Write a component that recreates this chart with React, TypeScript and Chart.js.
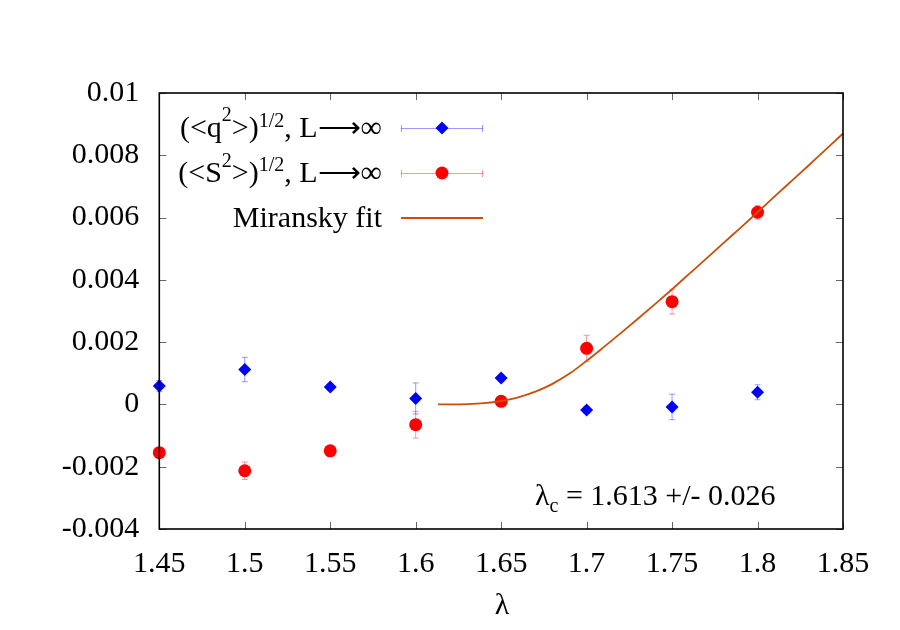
import React, { useEffect, useRef } from 'react';
import { Chart, registerables } from 'chart.js';

Chart.register(...registerables);

// ---- data ----
const lambdas = [1.45, 1.5, 1.55, 1.6, 1.65, 1.7, 1.75, 1.8];
const qValues = [0.00059, 0.00112, 0.00056, 0.00019, 0.00085, -0.00018, -0.00008, 0.00039];
const qErrors = [0.00018, 0.00039, 0.0001, 0.0005, 0.0001, 0.0001, 0.00041, 0.00024];
const sValues = [-0.00155, -0.00213, -0.00149, -0.00065, 0.0001, 0.0018, 0.0033, 0.00617];
const sErrors = [0.0001, 0.00028, 0.0001, 0.00043, 0.0001, 0.00042, 0.0004, 0.00022];

const fitLambdas = [1.613, 1.62, 1.63, 1.64, 1.65, 1.66, 1.67, 1.68, 1.69, 1.7, 1.71, 1.72, 1.73, 1.74, 1.75, 1.76, 1.77, 1.78, 1.79, 1.8, 1.81, 1.82, 1.83, 1.84, 1.85];
const fitValues = [0, 0.000001, 0.00001, 0.00004, 0.00011, 0.00023, 0.00041, 0.00066, 0.00099, 0.0014, 0.00184, 0.00229, 0.00275, 0.00322, 0.0037, 0.00419, 0.00468, 0.00518, 0.00567, 0.00617, 0.00668, 0.00718, 0.00768, 0.00819, 0.0087];

const xMin = 1.45, xMax = 1.85, xStep = 0.05;
const yMin = -0.004, yMax = 0.01, yStep = 0.002;

const legendLabels = ['(<q2>)1/2, L⟶∞', '(<S2>)1/2, L⟶∞', 'Miransky fit'];
const annotationText = 'λc = 1.613 +/- 0.026';
const xTitle = 'λ';

const BLUE = '#0000ff';
const RED = '#ff0000';
const FIT = '#c8500a';
const BLUE_ERR = 'rgba(70,70,255,0.55)';
const RED_ERR = 'rgba(255,70,70,0.55)';
const FONT = '"Liberation Serif", "Times New Roman", serif';

type Part = { t: string; sup?: number; sub?: number };

function richWidth(ctx: CanvasRenderingContext2D, parts: Part[]) {
  let w = 0;
  for (const p of parts) {
    ctx.font = (p.sup !== undefined || p.sub !== undefined) ? `20px ${FONT}` : `30px ${FONT}`;
    w += ctx.measureText(p.t).width;
  }
  return w;
}
function drawRich(ctx: CanvasRenderingContext2D, parts: Part[], x: number, baseline: number, align: 'left' | 'right') {
  let cx = align === 'right' ? x - richWidth(ctx, parts) : x;
  ctx.textAlign = 'left';
  ctx.textBaseline = 'alphabetic';
  ctx.fillStyle = '#000';
  for (const p of parts) {
    const small = p.sup !== undefined || p.sub !== undefined;
    ctx.font = small ? `20px ${FONT}` : `30px ${FONT}`;
    let y = baseline;
    if (p.sup !== undefined) y -= p.sup;
    if (p.sub !== undefined) y += p.sub;
    ctx.fillText(p.t, cx, y);
    cx += ctx.measureText(p.t).width;
  }
}

const errorBarPlugin = {
  id: 'errorBars',
  beforeDatasetsDraw(chart: any) {
    const { ctx, scales } = chart;
    const x = scales.x, y = scales.y;
    const draw = (vals: number[], errs: number[], color: string) => {
      ctx.save();
      ctx.strokeStyle = color;
      ctx.lineWidth = 1;
      lambdas.forEach((l, i) => {
        const px = x.getPixelForValue(l);
        const y1 = y.getPixelForValue(vals[i] - errs[i]);
        const y2 = y.getPixelForValue(vals[i] + errs[i]);
        ctx.beginPath();
        ctx.moveTo(px, y1); ctx.lineTo(px, y2);
        ctx.moveTo(px - 3, y1); ctx.lineTo(px + 3, y1);
        ctx.moveTo(px - 3, y2); ctx.lineTo(px + 3, y2);
        ctx.stroke();
      });
      ctx.restore();
    };
    draw(qValues, qErrors, BLUE_ERR);
    draw(sValues, sErrors, RED_ERR);
  },
};

const framePlugin = {
  id: 'frame',
  afterDraw(chart: any) {
    const { ctx, chartArea: a, scales } = chart;
    ctx.save();
    // ticks inward
    ctx.strokeStyle = '#666';
    ctx.lineWidth = 1;
    const tl = 7;
    ctx.beginPath();
    scales.y.ticks.forEach((t: any) => {
      const py = Math.round(scales.y.getPixelForValue(t.value)) + 0.5;
      ctx.moveTo(a.left, py); ctx.lineTo(a.left + tl, py);
      ctx.moveTo(a.right, py); ctx.lineTo(a.right - tl, py);
    });
    scales.x.ticks.forEach((t: any) => {
      const px = Math.round(scales.x.getPixelForValue(t.value)) + 0.5;
      ctx.moveTo(px, a.bottom); ctx.lineTo(px, a.bottom - tl);
      ctx.moveTo(px, a.top); ctx.lineTo(px, a.top + tl);
    });
    ctx.stroke();
    // border
    ctx.strokeStyle = '#000';
    ctx.lineWidth = 1.6;
    ctx.strokeRect(a.left, a.top, a.right - a.left, a.bottom - a.top);

    // legend
    const rows = [
      { parts: [{ t: '(<q' }, { t: '2', sup: 16 }, { t: '>)' }, { t: '1/2', sup: 10 }, { t: ', L⟶∞' }] as Part[], kind: 'q' },
      { parts: [{ t: '(<S' }, { t: '2', sup: 15 }, { t: '>)' }, { t: '1/2', sup: 11 }, { t: ', L⟶∞' }] as Part[], kind: 's' },
      { parts: [{ t: legendLabels[2] }] as Part[], kind: 'fit' },
    ];
    const baselines = [137, 182, 227];
    const sx1 = 401, sx2 = 483, sxc = 442;
    rows.forEach((r, i) => {
      drawRich(ctx, r.parts, 382, baselines[i], 'right');
      const sy = baselines[i] - 9;
      if (r.kind === 'fit') {
        ctx.strokeStyle = FIT; ctx.lineWidth = 1.8;
        ctx.beginPath(); ctx.moveTo(sx1, sy); ctx.lineTo(sx2, sy); ctx.stroke();
      } else {
        ctx.strokeStyle = r.kind === 'q' ? BLUE_ERR : RED_ERR; ctx.lineWidth = 1;
        ctx.beginPath();
        ctx.moveTo(sx1, sy + 0.5); ctx.lineTo(sx2, sy + 0.5);
        ctx.moveTo(sx1 + 0.5, sy - 3); ctx.lineTo(sx1 + 0.5, sy + 4);
        ctx.moveTo(sx2 - 0.5, sy - 3); ctx.lineTo(sx2 - 0.5, sy + 4);
        ctx.stroke();
        ctx.fillStyle = r.kind === 'q' ? BLUE : RED;
        ctx.beginPath();
        if (r.kind === 'q') {
          ctx.moveTo(sxc, sy - 6.5); ctx.lineTo(sxc + 6.5, sy); ctx.lineTo(sxc, sy + 6.5); ctx.lineTo(sxc - 6.5, sy); ctx.closePath();
        } else {
          ctx.arc(sxc, sy, 6.5, 0, Math.PI * 2);
        }
        ctx.fill();
      }
    });

    // annotation
    drawRich(ctx, [{ t: annotationText.slice(0, 1) }, { t: annotationText.slice(1, 2), sub: 7 }, { t: annotationText.slice(2) }], 535, 505, 'left');

    // x title
    ctx.font = `30px ${FONT}`;
    ctx.fillStyle = '#000';
    ctx.textAlign = 'center';
    ctx.textBaseline = 'alphabetic';
    ctx.fillText(xTitle, 502, 614);
    ctx.restore();
  },
};

export default function App() {
  const ref = useRef<HTMLCanvasElement>(null);
  useEffect(() => {
    if (!ref.current) return;
    const chart = new Chart(ref.current, {
      type: 'scatter',
      data: {
        datasets: [
          {
            label: legendLabels[2],
            data: fitLambdas.map((l, i) => ({ x: l, y: fitValues[i] })),
            showLine: true,
            borderColor: FIT,
            borderWidth: 1.8,
            pointRadius: 0,
            cubicInterpolationMode: 'monotone',
            fill: false,
            order: 0,
            clip: false,
          } as any,
          {
            label: legendLabels[1],
            data: lambdas.map((l, i) => ({ x: l, y: sValues[i] })),
            pointStyle: 'circle',
            pointRadius: 6.5,
            backgroundColor: RED,
            borderColor: RED,
            borderWidth: 0,
            order: 1,
            clip: false,
          } as any,
          {
            label: legendLabels[0],
            data: lambdas.map((l, i) => ({ x: l, y: qValues[i] })),
            pointStyle: 'rectRot',
            pointRadius: 6.5,
            backgroundColor: BLUE,
            borderColor: BLUE,
            borderWidth: 0,
            order: 2,
            clip: false,
          } as any,
        ],
      },
      options: {
        animation: false,
        responsive: false,
        maintainAspectRatio: false,
        layout: { padding: { top: 93, right: 57, left: 0, bottom: 0 } },
        plugins: { legend: { display: false }, tooltip: { enabled: false } },
        scales: {
          x: {
            type: 'linear',
            min: xMin,
            max: xMax,
            grid: { display: false, drawTicks: false },
            border: { display: false },
            ticks: {
              stepSize: xStep,
              padding: 17,
              color: '#000',
              font: { family: FONT, size: 30 },
              maxRotation: 0,
              autoSkip: false,
              callback: (v: any) => String(Number(Number(v).toFixed(2))),
            },
            afterFit: (s: any) => { s.height = 101; },
          },
          y: {
            type: 'linear',
            min: yMin,
            max: yMax,
            grid: { display: false, drawTicks: false },
            border: { display: false },
            ticks: {
              stepSize: yStep,
              padding: 20,
              color: '#000',
              font: { family: FONT, size: 30 },
              autoSkip: false,
              callback: (v: any) => String(Number(Number(v).toFixed(3))),
            },
            afterFit: (s: any) => { s.width = 159.3; },
          },
        },
      },
      plugins: [errorBarPlugin, framePlugin],
    });
    let alive = true;
    const fs: any = (document as any).fonts;
    if (fs && fs.load) {
      Promise.all([fs.load(`30px "Liberation Serif"`), fs.load(`20px "Liberation Serif"`)])
        .then(() => { if (alive) chart.update(); })
        .catch(() => {});
    }
    return () => { alive = false; chart.destroy(); };
  }, []);
  return (
    <div style={{ position: 'relative', width: 900, height: 630 }}>
      <span
        aria-hidden="true"
        style={{ position: 'absolute', left: 0, top: 0, fontFamily: '"Liberation Serif"', fontSize: 30, opacity: 0, pointerEvents: 'none' }}
      >
        λc 0.008 Miransky fit L⟶∞
      </span>
      <canvas
        ref={ref}
        width={900}
        height={630}
        style={{ position: 'fixed', left: 0, top: 0, width: 900, height: 630, display: 'block', background: '#fff' }}
      />
    </div>
  );
}
